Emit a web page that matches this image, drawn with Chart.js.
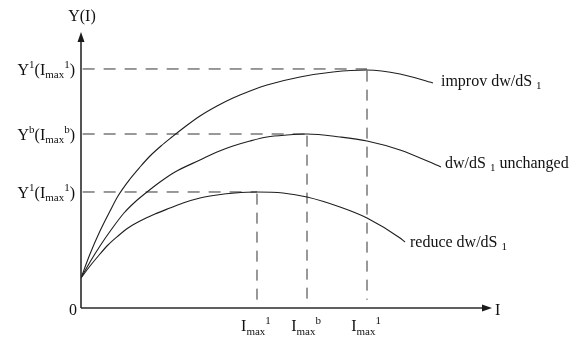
<!DOCTYPE html>
<html><head><meta charset="utf-8">
<script src="https://cdn.jsdelivr.net/npm/chart.js@4/dist/chart.umd.min.js"></script>
<style>html,body{margin:0;padding:0;background:#fff}#c{display:block}</style>
</head><body>
<canvas id="c" width="580" height="339"></canvas>
<script>
// ---- data (arbitrary units, I on x 0..100, Y on y 0..100) ----
const improvX = [0, 2.19, 4.62, 7.06, 9.00, 11.92, 14.36, 16.79, 19.46, 22.14, 25.55, 28.95, 33.09, 36.98, 41.12, 45.26, 53.28, 61.31, 69.59, 77.62, 85.64];
const improvY = [10.87, 19.57, 27.90, 35.14, 40.58, 46.74, 51.09, 55.07, 58.70, 61.96, 65.94, 69.57, 73.19, 76.09, 78.62, 80.80, 83.70, 85.51, 86.23, 84.78, 81.52];
const unchX = [0, 2.19, 4.62, 7.30, 10.46, 13.14, 16.06, 19.22, 22.87, 28.95, 33.09, 36.98, 41.12, 45.26, 50.12, 54.99, 63.02, 69.59, 77.62, 87.59];
const unchY = [10.87, 16.67, 22.46, 28.26, 34.42, 38.41, 42.03, 45.65, 49.28, 53.62, 56.52, 58.70, 60.51, 61.96, 62.68, 63.04, 61.96, 60.51, 57.25, 51.09];
const reduceX = [0, 2.19, 4.62, 6.57, 9.00, 11.44, 14.36, 18.00, 21.65, 24.82, 28.95, 33.09, 37.47, 42.82, 49.15, 54.99, 63.02, 69.59, 77.62, 78.83];
const reduceY = [10.87, 15.22, 19.57, 22.83, 26.09, 28.99, 31.52, 34.06, 36.23, 38.04, 39.86, 40.94, 41.67, 42.03, 41.67, 40.22, 36.59, 32.61, 25.36, 23.91];

const iMax = [42.82, 54.99, 69.59];      // reduce, unchanged, improv
const yMax = [42.03, 63.04, 86.6];
const xTickLabels = ["I_{max}^{1}", "I_{max}^{b}", "I_{max}^{1}"];
const yTickLabels = ["Y^{1}(I_{max}^{1})", "Y^{b}(I_{max}^{b})", "Y^{1}(I_{max}^{1})"];
const curveLabels = ["reduce dw/dS _{1}", "dw/dS _{1} unchanged", "improv dw/dS _{1}"];
const xAxisTitle = "I";
const yAxisTitle = "Y(I)";
const originLabel = "0";

// ---- build datasets ----
const toPts = (xs, ys) => xs.map((x, i) => ({x, y: ys[i]}));
const curves = [toPts(reduceX, reduceY), toPts(unchX, unchY), toPts(improvX, improvY)];
const curveStyle = {showLine: true, pointRadius: 0, borderColor: '#1e1e1e', borderWidth: 1.1,
  cubicInterpolationMode: 'monotone', fill: false};
const datasets = curves.map(d => Object.assign({data: d}, curveStyle));
iMax.forEach((xm, i) => {
  datasets.push({data: [{x: 0.4, y: yMax[i]}, {x: xm, y: yMax[i]}], showLine: true, pointRadius: 0,
    borderColor: '#333', borderWidth: 1, borderDash: [12, 9], fill: false});
  datasets.push({data: [{x: xm, y: yMax[i] - 0.6}, {x: xm, y: 3}], showLine: true, pointRadius: 0,
    borderColor: '#333', borderWidth: 1, borderDash: [11, 8], fill: false});
});

const FONT = '"Liberation Serif", "Times New Roman", serif';
function parseRich(str) {
  const segs = []; let i = 0; let buf = '';
  while (i < str.length) {
    const c = str[i];
    if ((c === '_' || c === '^') && str[i + 1] === '{') {
      if (buf) { segs.push({t: buf, k: 'n'}); buf = ''; }
      const end = str.indexOf('}', i);
      segs.push({t: str.slice(i + 2, end), k: c === '_' ? 'sub' : 'sup'});
      i = end + 1;
    } else { buf += c; i++; }
  }
  if (buf) segs.push({t: buf, k: 'n'});
  return segs;
}
function drawRich(ctx, str, x, y, align, subDy) {
  const segs = parseRich(str);
  const size = s => s.k === 'n' ? 16 : 11;
  let w = 0;
  segs.forEach(s => { ctx.font = size(s) + 'px ' + FONT; s.w = ctx.measureText(s.t).width; w += s.w; });
  let cx = align === 'right' ? x - w : align === 'center' ? x - w / 2 : x;
  ctx.textBaseline = 'alphabetic'; ctx.textAlign = 'left';
  segs.forEach(s => {
    ctx.font = size(s) + 'px ' + FONT;
    const dy = s.k === 'sub' ? (subDy || 4) : s.k === 'sup' ? -7 : 0;
    ctx.fillText(s.t, cx, y + dy);
    cx += s.w;
  });
}

const overlay = {
  id: 'overlay',
  afterDatasetsDraw(chart) {
    const ctx = chart.ctx, xs = chart.scales.x, ys = chart.scales.y;
    const x0 = xs.getPixelForValue(0), y0 = ys.getPixelForValue(0);
    const xEnd = xs.getPixelForValue(xs.max), yEnd = ys.getPixelForValue(ys.max);
    ctx.save();
    ctx.strokeStyle = '#2a2a2a'; ctx.fillStyle = '#1a1a1a'; ctx.lineWidth = 1.6;
    ctx.beginPath(); ctx.moveTo(x0, y0); ctx.lineTo(xEnd - 6, y0); ctx.stroke();
    ctx.beginPath(); ctx.moveTo(x0, y0); ctx.lineTo(x0, yEnd + 6); ctx.stroke();
    // arrowheads
    ctx.beginPath(); ctx.moveTo(xEnd, y0); ctx.lineTo(xEnd - 10, y0 - 3.5); ctx.lineTo(xEnd - 10, y0 + 3.5); ctx.closePath(); ctx.fill();
    ctx.beginPath(); ctx.moveTo(x0, yEnd); ctx.lineTo(x0 - 3.5, yEnd + 10); ctx.lineTo(x0 + 3.5, yEnd + 10); ctx.closePath(); ctx.fill();
    ctx.fillStyle = '#111';
    // axis titles
    drawRich(ctx, xAxisTitle, xEnd + 3, y0 + 7, 'left');
    drawRich(ctx, yAxisTitle, x0 + 1, yEnd - 11, 'center');
    drawRich(ctx, originLabel, x0 - 4, y0 + 7, 'right');
    // ticks
    iMax.forEach((v, i) => drawRich(ctx, xTickLabels[i], xs.getPixelForValue(v) - 1, y0 + 23, 'center'));
    yMax.forEach((v, i) => drawRich(ctx, yTickLabels[i], x0 - 6, ys.getPixelForValue(v) + 6, 'right', 3));
    // curve labels
    const offs = [[5, 5], [4, 1], [8, 3]];
    curves.forEach((c, i) => {
      const last = c[c.length - 1];
      drawRich(ctx, curveLabels[i], xs.getPixelForValue(last.x) + offs[i][0], ys.getPixelForValue(last.y) + offs[i][1], 'left', 3);
    });
    ctx.restore();
  }
};

new Chart(document.getElementById('c'), {
  type: 'scatter',
  data: {datasets},
  options: {
    responsive: false, animation: false, devicePixelRatio: 1,
    layout: {padding: {left: 81, right: 88, top: 32, bottom: 31}},
    plugins: {legend: {display: false}, tooltip: {enabled: false}, title: {display: false}},
    scales: {
      x: {type: 'linear', min: 0, max: 100, display: false},
      y: {type: 'linear', min: 0, max: 100, display: false}
    }
  },
  plugins: [overlay]
});
</script></body></html>
